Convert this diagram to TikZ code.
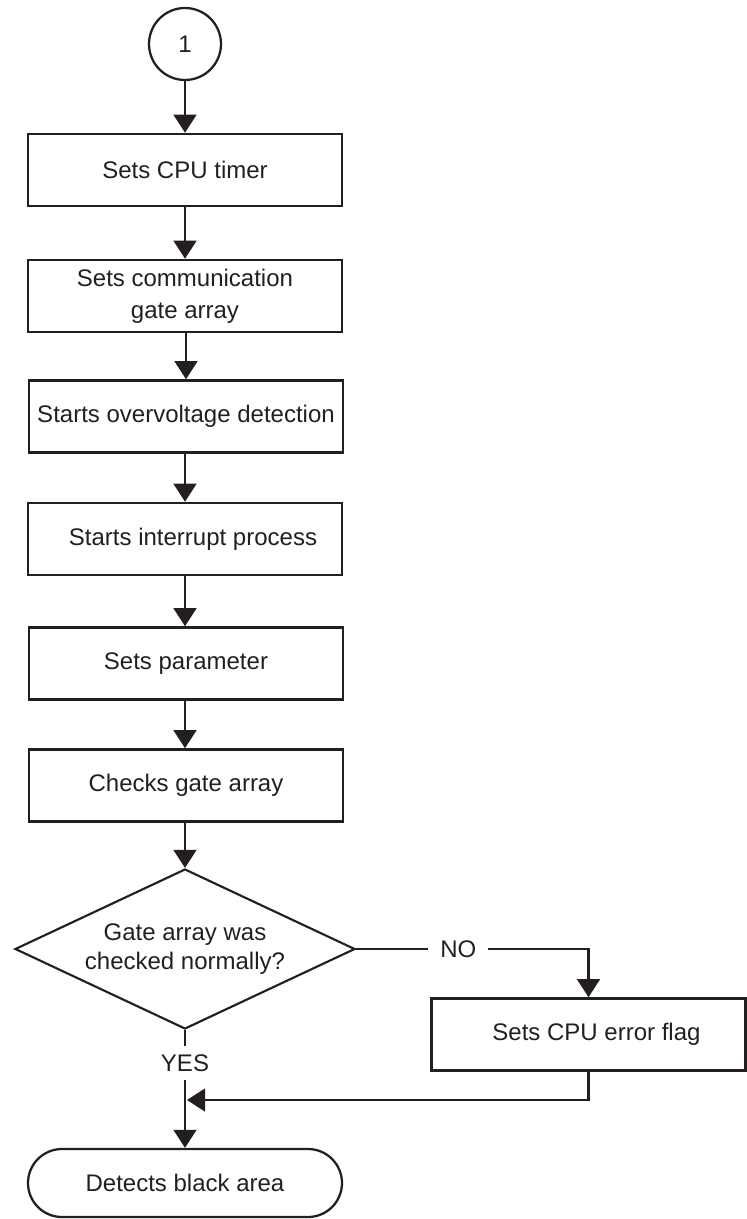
\documentclass[tikz,border=0pt]{standalone}
\usepackage{fontspec}
\setmainfont{Liberation Sans}
\usetikzlibrary{shapes.geometric,arrows.meta}
\definecolor{ink}{HTML}{231F20}
\begin{document}
\begin{tikzpicture}[x=0.75pt,y=-0.75pt,
  every node/.style={text=ink,font=\fontsize{18}{24}\selectfont},
  proc/.style={draw=ink,line width=1.9pt,rectangle,minimum width=235.5pt,minimum height=54pt,align=center,inner sep=0pt},
  conn/.style={draw=ink,line width=1.7pt,circle,minimum size=54pt,inner sep=0pt},
  decide/.style={draw=ink,line width=1.6pt,diamond,minimum width=255pt,minimum height=120pt,aspect=2.125,inner sep=0pt,align=center,font=\fontsize{18}{22}\selectfont},
  term/.style={draw=ink,line width=1.7pt,rectangle,rounded corners=25.5pt,minimum width=235.5pt,minimum height=51pt,inner sep=0pt},
  arr/.style={draw=ink,line width=1.8pt,-{Triangle[width=17pt,length=13.5pt]}},
  lbl/.style={fill=white,inner xsep=9pt,inner ysep=6.5pt,text depth=0pt}]
\useasboundingbox (0,0) rectangle (746,1219);

% main column
\node[conn] (c) at (185,44) {1};
\node[proc] (b1) at (185,170) {Sets CPU timer};
\node[proc] (b2) at (185,296) {Sets communication\\gate array};
\node[proc] (b3) at (186,416.5) {Starts overvoltage detection};
\node[proc] (b4) at (185,539) {\hspace*{12pt}Starts interrupt process};
\node[proc] (b5) at (186,663.5) {Sets parameter};
\node[proc] (b6) at (186,785.5) {Checks gate array};
\node[decide] (d) at (185,949) {Gate array was\\checked normally?};
\node[term] (t) at (185,1183) {Detects black area};

% error branch
\node[proc] (b7) at (588.5,1034.5) {\hspace*{12pt}Sets CPU error flag};
\coordinate (m) at (187,1100);

\draw[arr] (c) -- (b1);
\draw[arr] (b1) -- (b2);
\draw[arr] (b2) -- (b3 |- b2.south) -- (b3);
\draw[arr] (b3.south -| b4) -- (b4);
\draw[arr] (b4) -- (b5.north -| b4);
\draw[arr] (b5.south -| b4) -- (b6.north -| b4);
\draw[arr] (b6.south -| d) -- (d);
\draw[arr] (d.east) -| node[lbl,pos=0.22] {NO} (b7.north);
\draw[arr] (d.south) -- node[lbl,pos=0.28] {YES} (t.north);
\draw[arr] (b7.south) |- (m);
\end{tikzpicture}
\end{document}
